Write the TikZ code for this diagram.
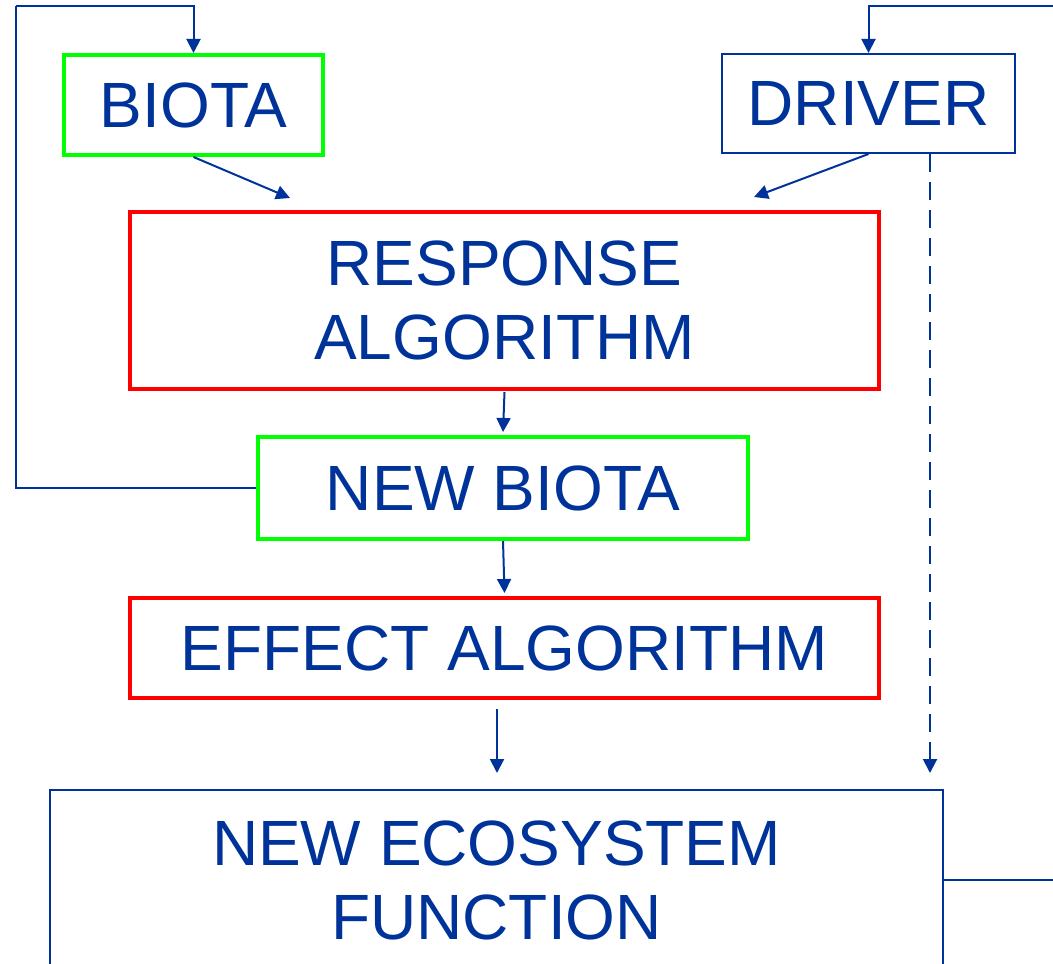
\documentclass[tikz,border=0pt]{standalone}
\usepackage{fontspec}
\setmainfont{Liberation Sans}
\usepackage{xcolor}
\usepackage{tikz}
\usetikzlibrary{arrows.meta, positioning, calc}
\definecolor{inkblue}{RGB}{0, 51, 153}
\definecolor{biogreen}{RGB}{0, 255, 0}
\definecolor{algred}{RGB}{255, 0, 0}

\begin{document}
\begin{tikzpicture}[
    x=0.5pt, y=-0.5pt,
    box/.style={draw, rectangle, inner sep=0pt, align=center, text=inkblue,
        font=\fontsize{32pt}{37pt}\selectfont},
    biobox/.style={box, draw=biogreen, line width=2pt},
    algbox/.style={box, draw=algred, line width=2pt},
    plainbox/.style={box, draw=inkblue, line width=1pt},
    arrow/.style={-{Triangle[length=7pt, width=7pt]}, draw=inkblue, line width=1pt},
    link/.style={draw=inkblue, line width=1pt}
]
    \useasboundingbox (0,0) rectangle (1053,963);
    \clip (0,0) rectangle (1053,963);

    \node[biobox, minimum width=129.5pt, minimum height=50pt] (biota) at (193.5,105) {BIOTA};
    \node[plainbox, minimum width=146.5pt, minimum height=49.5pt] (driver) at (868.5,103.5) {DRIVER};
    \node[algbox, minimum width=374.5pt, minimum height=88.5pt] (response) at (504.5,300.5) {RESPONSE\\ALGORITHM};
    \node[biobox, minimum width=245pt, minimum height=51pt] (newbiota) at (503,488) {NEW BIOTA};
    \node[algbox, minimum width=374.5pt, minimum height=50pt] (effect) at (504.5,648) {EFFECT ALGORITHM};
    \node[plainbox, minimum width=446.5pt, minimum height=90pt] (ecosystem) at (496.5,880) {NEW ECOSYSTEM\\FUNCTION};

    % free ends and loop corners
    \coordinate (respL) at (290,198);
    \coordinate (respR) at (754,197);
    \coordinate (effOut) at (497,709);
    \coordinate (ecoIn) at (497,773);
    \coordinate (ecoDash) at (930,773);
    \coordinate (loopL) at (16,6);
    \coordinate (loopR) at (1090,6);

    \draw[arrow] (biota.south) -- (respL);
    \draw[arrow] (driver.south) -- (respR);
    \draw[arrow] (response.south) ++(0,1) -- ($(newbiota.north)+(0,-3)$);
    \draw[arrow] (newbiota.south) -- ($(effect.north)+(0,-3)$);
    \draw[arrow] (effOut) -- (ecoIn);
    \draw[arrow, dashed, dash pattern=on 9pt off 5pt] (driver.south -| ecoDash) -- (ecoDash);

    \draw[link] (newbiota.west) -| (loopL);
    \draw[arrow] (loopL) -| (biota.north);
    \draw[link] (ecosystem.east) -| (loopR);
    \draw[arrow] (loopR) -| (driver.north);
\end{tikzpicture}
\end{document}
